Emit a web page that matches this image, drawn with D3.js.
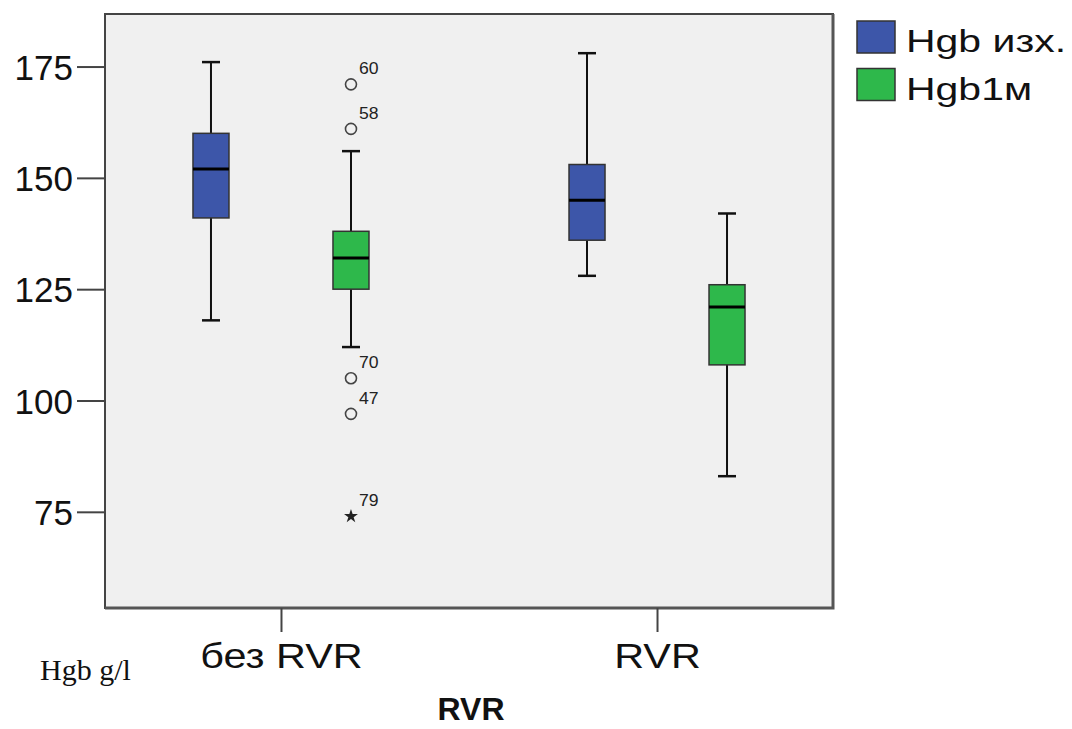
<!DOCTYPE html>
<html>
<head>
<meta charset="utf-8">
<script src="https://cdn.jsdelivr.net/npm/d3@7"></script>
<style>
  body { margin: 0; background: #fff; }
  text { font-family: "Liberation Sans", Arial, sans-serif; }
</style>
</head>
<body>
<script>
// Boxplot Hgb by RVR group

// categories and series
var categories = ["без RVR", "RVR"];
var series = ["Hgb изх.", "Hgb1м"];
var colors = ["#3d56a9", "#2eb84b"];

// box stats per category, one array per series: [min, q1, median, q3, max]
var hgbIzh = [[118, 141, 152, 160, 176], [128, 136, 145, 153, 178]];
var hgb1m  = [[112, 125, 132, 138, 156], [83, 108, 121, 126, 142]];

// outliers (only in "без RVR", Hgb1м)
var outVals   = [171, 161, 105, 97, 74];
var outLabels = ["60", "58", "70", "47", "79"];
var outKinds  = ["o", "o", "o", "o", "*"];

var yTicks = [75, 100, 125, 150, 175];

var W = 1072, H = 729;
var frame = { left: 105, top: 14, right: 833, bottom: 608 };

var svg = d3.select("body").append("svg")
    .attr("width", W)
    .attr("height", H);

// scales
var y = d3.scaleLinear().domain([53.4, 186.8]).range([frame.bottom, frame.top]);
var x = d3.scalePoint().domain(categories).range([frame.left, frame.right]).padding(0.468);
var xs = d3.scalePoint().domain(series).range([-70, 70]);

var boxW = 36, capW = 18;

// plot background
svg.append("rect")
    .attr("x", frame.left).attr("y", frame.top)
    .attr("width", frame.right - frame.left)
    .attr("height", frame.bottom - frame.top)
    .attr("fill", "#f0f0f0")
    .attr("stroke", "#444")
    .attr("stroke-width", 2);
// thicker shade on right/bottom
svg.append("path")
    .attr("d", "M" + (frame.left) + "," + (frame.bottom) + "H" + frame.right + "V" + frame.top)
    .attr("fill", "none")
    .attr("stroke", "#555")
    .attr("stroke-width", 3);

// y axis
var yAxis = svg.append("g")
    .attr("transform", "translate(" + frame.left + ",0)")
    .call(d3.axisLeft(y).tickValues(yTicks).tickSize(28).tickPadding(4));
yAxis.select(".domain").remove();
yAxis.selectAll(".tick line").attr("stroke", "#444").attr("stroke-width", 2);
yAxis.selectAll(".tick text")
    .attr("font-size", 35)
    .attr("fill", "#111")
    .attr("dy", "0.36em")
    .style("font-family", "Liberation Sans, Arial, sans-serif");

// x axis
var xAxis = svg.append("g")
    .attr("transform", "translate(0," + frame.bottom + ")")
    .call(d3.axisBottom(x).tickSize(24).tickPadding(10));
xAxis.select(".domain").remove();
xAxis.selectAll(".tick line").attr("stroke", "#444").attr("stroke-width", 2);
xAxis.selectAll(".tick text")
    .attr("font-size", 36)
    .attr("fill", "#111")
    .attr("transform", "scale(1.15,1)")
    .style("font-family", "Liberation Sans, Arial, sans-serif");

// boxes
var boxData = [];
categories.forEach(function(c, i) {
    boxData.push({ cat: c, ser: series[0], s: hgbIzh[i], color: colors[0] });
    boxData.push({ cat: c, ser: series[1], s: hgb1m[i], color: colors[1] });
});

var box = svg.selectAll(".box")
    .data(boxData)
    .enter().append("g")
    .attr("class", "box")
    .attr("transform", function(d) { return "translate(" + (x(d.cat) + xs(d.ser)) + ",0)"; });

// whiskers
box.append("line")
    .attr("x1", 0).attr("x2", 0)
    .attr("y1", function(d) { return y(d.s[0]); })
    .attr("y2", function(d) { return y(d.s[4]); })
    .attr("stroke", "#111").attr("stroke-width", 2);
box.selectAll(".cap")
    .data(function(d) { return [d.s[0], d.s[4]]; })
    .enter().append("line")
    .attr("x1", -capW / 2).attr("x2", capW / 2)
    .attr("y1", function(v) { return y(v); })
    .attr("y2", function(v) { return y(v); })
    .attr("stroke", "#111").attr("stroke-width", 2.5);

box.append("rect")
    .attr("x", -boxW / 2)
    .attr("width", boxW)
    .attr("y", function(d) { return y(d.s[3]); })
    .attr("height", function(d) { return y(d.s[1]) - y(d.s[3]); })
    .attr("fill", function(d) { return d.color; })
    .attr("stroke", "#333").attr("stroke-width", 1.5);

box.append("line")
    .attr("x1", -boxW / 2).attr("x2", boxW / 2)
    .attr("y1", function(d) { return y(d.s[2]); })
    .attr("y2", function(d) { return y(d.s[2]); })
    .attr("stroke", "#000").attr("stroke-width", 3);

// outliers
var ox = x(categories[0]) + xs(series[1]);
outVals.forEach(function(v, i) {
    if (outKinds[i] === "o") {
        svg.append("circle")
            .attr("cx", ox).attr("cy", y(v)).attr("r", 5.5)
            .attr("fill", "none").attr("stroke", "#444").attr("stroke-width", 1.6);
    } else {
        svg.append("path")
            .attr("d", d3.symbol().type(d3.symbolStar).size(60)())
            .attr("transform", "translate(" + ox + "," + y(v) + ")")
            .attr("fill", "#222");
    }
    svg.append("text")
        .attr("transform", "translate(" + (ox + 8) + "," + (y(v) - 10) + ") scale(1.1,1)")
        .attr("font-size", 16)
        .attr("fill", "#222")
        .text(outLabels[i]);
});

// legend
var legend = svg.selectAll(".legend")
    .data(series)
    .enter().append("g")
    .attr("class", "legend")
    .attr("transform", function(d, i) { return "translate(857," + (21 + i * 47.5) + ")"; });
legend.append("rect")
    .attr("width", 38).attr("height", 32)
    .attr("fill", function(d, i) { return colors[i]; })
    .attr("stroke", "#333").attr("stroke-width", 1.5);
legend.append("text")
    .attr("transform", "translate(49,31) scale(1.28,1)")
    .attr("font-size", 32)
    .attr("fill", "#111")
    .text(function(d) { return d; });

// axis title
svg.append("text")
    .attr("x", (frame.left + frame.right) / 2 + 2)
    .attr("y", 720)
    .attr("text-anchor", "middle")
    .attr("font-size", 32)
    .attr("font-weight", "bold")
    .attr("fill", "#111")
    .text("RVR");

// unit note
svg.append("text")
    .attr("x", 40)
    .attr("y", 680)
    .attr("font-size", 30)
    .attr("fill", "#111")
    .style("font-family", "Liberation Serif, 'Times New Roman', serif")
    .text("Hgb g/l");
</script>
</body>
</html>
